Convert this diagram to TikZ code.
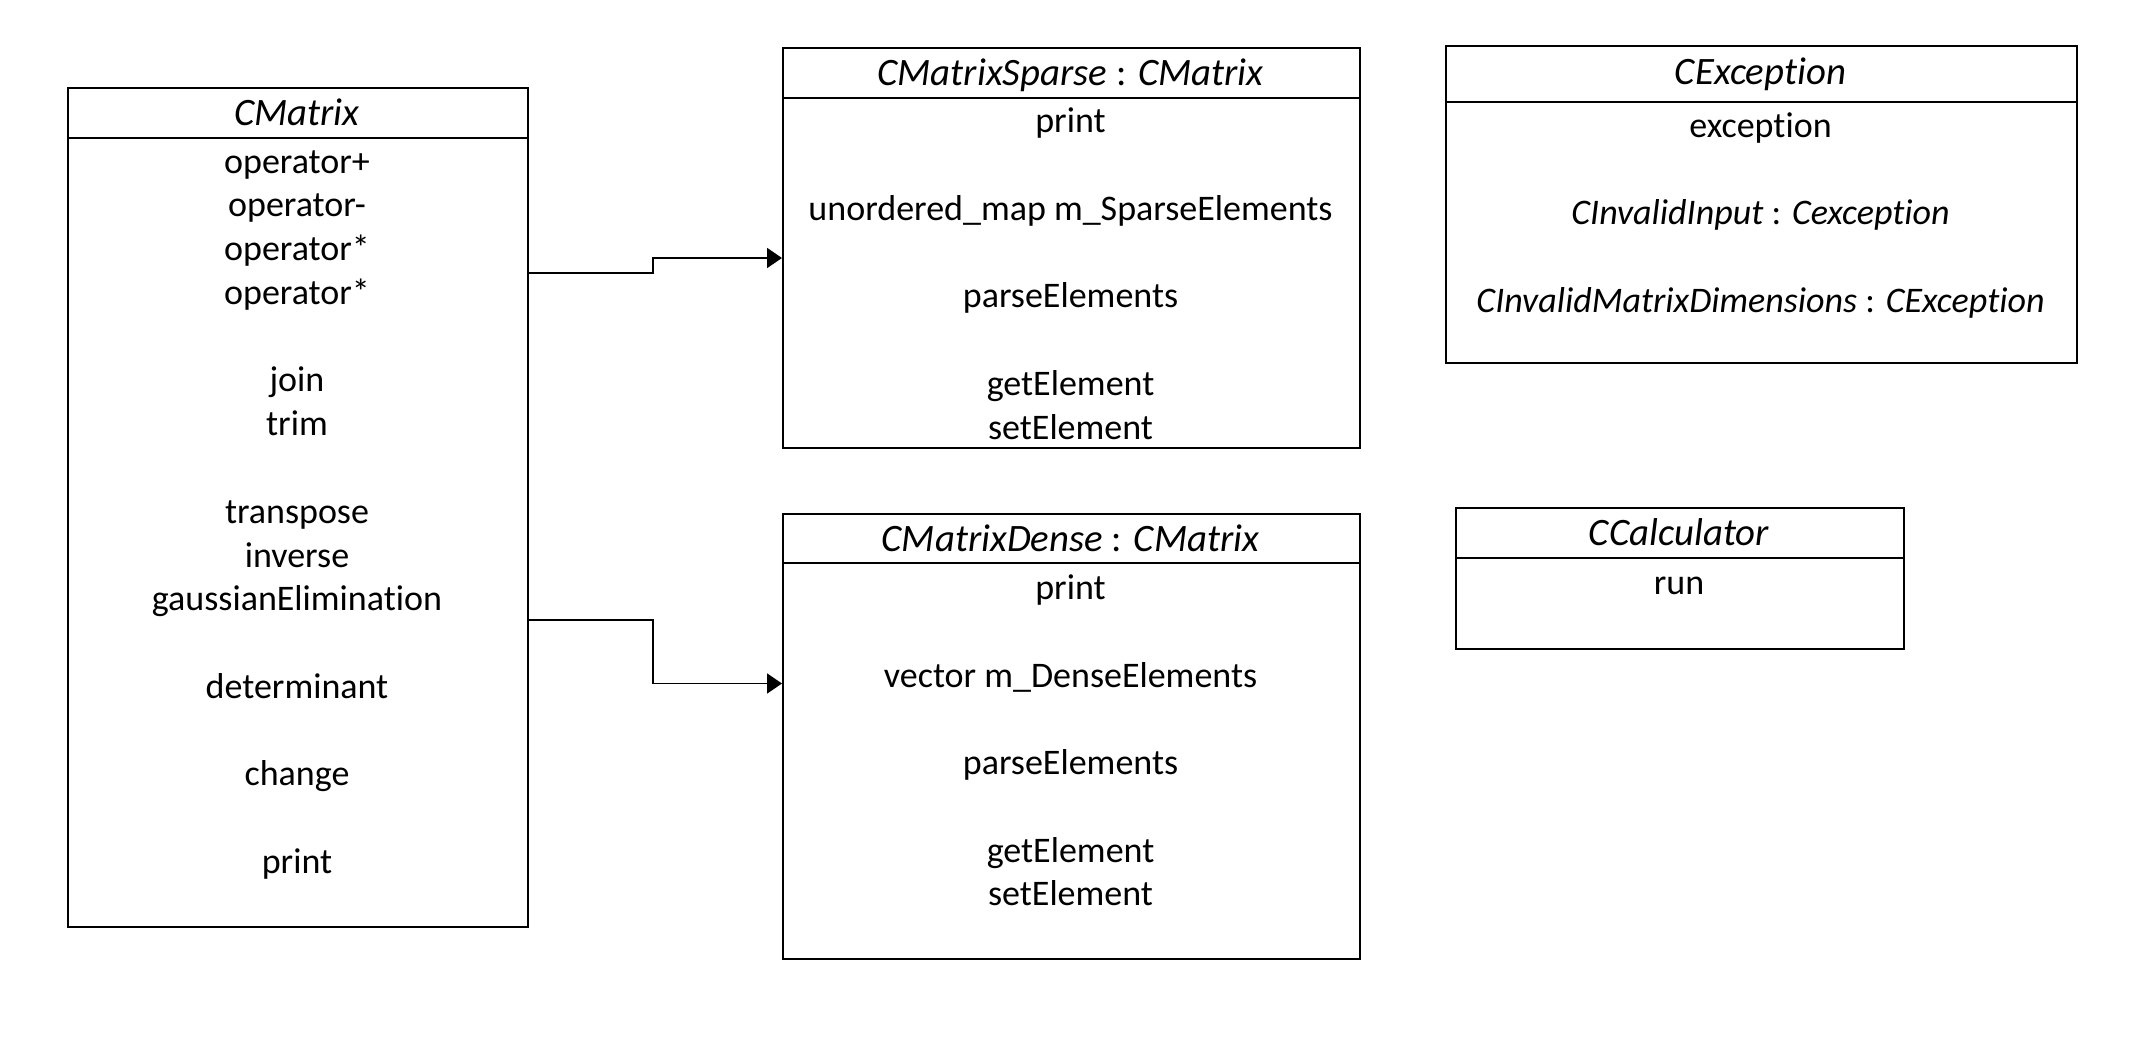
\documentclass[tikz,border=0pt]{standalone}
\usepackage{fontspec}
\setmainfont{Carlito}[Ligatures=NoCommon]
\usetikzlibrary{arrows.meta}
\begin{document}
\begin{tikzpicture}[x=0.5pt,y=-0.5pt,
  frame/.style={draw,line width=1pt,inner sep=0pt,anchor=north west,fill=none},
  txt/.style={anchor=base,inner sep=0pt,font=\fontsize{18}{21.8}\selectfont},
  htxt/.style={anchor=base,inner sep=0pt,font=\fontsize{19.4}{23}\selectfont},
  conn/.style={line width=0.9pt,-{Triangle[length=7.5pt,width=10pt]}}]
\useasboundingbox (0,0) rectangle (2152,1044);
% ---------- CMatrix ----------
\node[frame,minimum width=230pt,minimum height=25pt] (cmh) at (67,86.7) {};
\node[frame,minimum width=230pt,minimum height=394.65pt] (cmb) at (67,136.7) {};
\node[htxt] (cmt) at (297,125.5) {\itshape CMatrix};
\node[txt] (cm1) at (297,173) {operator+};
\node[txt] (cm2) at (297,216.8) {operator-};
\node[txt] (cm3) at (297,260.5) {operator*};
\node[txt] (cm4) at (297,304.3) {operator*};
\node[txt] (cm5) at (297,391.9) {join};
\node[txt] (cm6) at (297,435.6) {trim};
\node[txt] (cm7) at (297,523.2) {transpose};
\node[txt] (cm8) at (297,567) {inverse};
\node[txt] (cm9) at (297,610.7) {gaussianElimination};
\node[txt] (cm10) at (297,698.2) {determinant};
\node[txt] (cm11) at (297,785.8) {change};
\node[txt] (cm12) at (297,873.3) {print};
% ---------- CMatrixSparse ----------
\node[frame,minimum width=288.5pt,minimum height=25pt] (sph) at (782,46.7) {};
\node[frame,minimum width=288.5pt,minimum height=175pt] (spb) at (782,96.7) {};
\node[htxt] (spt) at (1070.5,85.5) {\itshape CMatrixSparse\upshape{} : \itshape CMatrix};
\node[txt] (sp1) at (1070.5,132.7) {print};
\node[txt] (sp2) at (1070.5,220.2) {unordered\_map m\_SparseElements};
\node[txt] (sp3) at (1070.5,307.8) {parseElements};
\node[txt] (sp4) at (1070.5,395.3) {getElement};
\node[txt] (sp5) at (1070.5,439.1) {setElement};
% ---------- CMatrixDense ----------
\node[frame,minimum width=288.5pt,minimum height=24.5pt] (dnh) at (782,513) {};
\node[frame,minimum width=288.5pt,minimum height=198pt] (dnb) at (782,562) {};
\node[htxt] (dnt) at (1070.5,551.5) {\itshape CMatrixDense\upshape{} : \itshape CMatrix};
\node[txt] (dn1) at (1070.5,599.5) {print};
\node[txt] (dn2) at (1070.5,687) {vector m\_DenseElements};
\node[txt] (dn3) at (1070.5,774.6) {parseElements};
\node[txt] (dn4) at (1070.5,862.1) {getElement};
\node[txt] (dn5) at (1070.5,905.9) {setElement};
% ---------- CException ----------
\node[frame,minimum width=315.5pt,minimum height=27.85pt] (exh) at (1445,45) {};
\node[frame,minimum width=315.5pt,minimum height=130.65pt] (exb) at (1445,100.7) {};
\node[htxt] (ext) at (1760.5,84.5) {\itshape CException};
\node[txt] (ex1) at (1760.5,137) {exception};
\node[txt] (ex2) at (1760.5,224.5) {\itshape CInvalidInput\upshape{} : \itshape Cexception};
\node[txt] (ex3) at (1760.5,312) {\itshape CInvalidMatrixDimensions\upshape{} : \itshape CException};
% ---------- CCalculator ----------
\node[frame,minimum width=224pt,minimum height=25pt] (cch) at (1455,506.7) {};
\node[frame,minimum width=224pt,minimum height=45.8pt] (ccb) at (1455,556.7) {};
\node[htxt] (cct) at (1679,545.5) {\itshape CCalculator};
\node[txt] (cc1) at (1679,594) {run};
% ---------- connectors ----------
\coordinate (y1) at (0,273);
\coordinate (y2) at (0,258);
\coordinate (y3) at (0,620);
\coordinate (y4) at (0,683.5);
\coordinate (mx) at (653,0);
\draw[conn] (cmb.east |- y1) -- (mx |- y1) -- (mx |- y2) -- (spb.west |- y2);
\draw[conn] (cmb.east |- y3) -- (mx |- y3) -- (mx |- y4) -- (dnb.west |- y4);
\end{tikzpicture}
\end{document}
